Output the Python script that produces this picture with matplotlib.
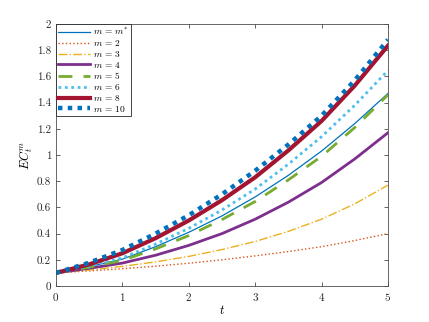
import numpy as np
import matplotlib
matplotlib.use('Agg')
import matplotlib.pyplot as plt

plt.rcParams['font.family'] = 'serif'
plt.rcParams['font.serif'] = ['cmr10']
plt.rcParams['mathtext.fontset'] = 'cm'
plt.rcParams['axes.formatter.use_mathtext'] = True

# values at t = 0, 0.5, ..., 5
t = [0, 0.5, 1, 1.5, 2, 2.5, 3, 3.5, 4, 4.5, 5]
ec_mstar = [0.1, 0.148, 0.205, 0.30, 0.41, 0.535, 0.68, 0.845, 1.03, 1.24, 1.47]
ec_m2 = [0.1, 0.115, 0.132, 0.151, 0.174, 0.20, 0.23, 0.263, 0.30, 0.347, 0.40]
ec_m3 = [0.1, 0.122, 0.15, 0.184, 0.226, 0.278, 0.34, 0.417, 0.51, 0.627, 0.77]
ec_m4 = [0.1, 0.135, 0.175, 0.235, 0.31, 0.40, 0.51, 0.64, 0.79, 0.97, 1.17]
ec_m5 = [0.1, 0.143, 0.195, 0.283, 0.385, 0.507, 0.645, 0.81, 0.99, 1.21, 1.46]
ec_m6 = [0.1, 0.152, 0.215, 0.32, 0.44, 0.58, 0.74, 0.93, 1.14, 1.38, 1.645]
ec_m8 = [0.1, 0.165, 0.25, 0.365, 0.50, 0.655, 0.83, 1.035, 1.26, 1.53, 1.835]
ec_m10 = [0.1, 0.178, 0.275, 0.40, 0.54, 0.70, 0.88, 1.08, 1.30, 1.57, 1.88]

fig = plt.figure(figsize=(4.29, 3.22), dpi=100)
ax = fig.add_axes([0.1305, 0.1118, 0.7739, 0.8137])

ax.plot(t, ec_mstar, '-', color='#0072BD', lw=0.9, label=r'$m\,=\,m^{*}$')
ax.plot(t, ec_m2, ':', color='#D95319', lw=1.0, label=r'$m\,=\,2$')
ax.plot(t, ec_m3, '-.', color='#EDB120', lw=1.0, label=r'$m\,=\,3$')
ax.plot(t, ec_m4, '-', color='#7E2F8E', lw=2.0, label=r'$m\,=\,4$')
ax.plot(t, ec_m5, '--', color='#77AC30', lw=2.0, dashes=(5, 4), label=r'$m\,=\,5$')
ax.plot(t, ec_m6, ':', color='#4DBEEE', lw=2.0, dashes=(1, 1.3), label=r'$m\,=\,6$')
ax.plot(t, ec_m8, '-', color='#A2142F', lw=3.0, label=r'$m\,=\,8$')
ax.plot(t, ec_m10, ':', color='#0072BD', lw=3.2, dashes=(1, 1.2), label=r'$m\,=\,10$')

ax.set_xlim(0, 5)
ax.set_ylim(0, 2)
ax.set_xticks([0, 1, 2, 3, 4, 5])
ax.set_yticks(np.arange(0, 2.01, 0.2))
ax.set_yticklabels(['0', '0.2', '0.4', '0.6', '0.8', '1', '1.2', '1.4', '1.6', '1.8', '2'])
ax.tick_params(direction='in', top=True, right=True, labelsize=8, length=3,
               width=0.5, colors='#262626')
for s in ax.spines.values():
    s.set_linewidth(0.6)
    s.set_color('#4d4d4d')

ax.set_xlabel(r'$t$', fontsize=9, labelpad=1)
ax.set_ylabel(r'$EC_t^m$', fontsize=9, labelpad=1)

leg = ax.legend(loc='upper left', fontsize=6.8, borderaxespad=0, handlelength=3.3,
                handletextpad=0.35, labelspacing=0.08, borderpad=0.25,
                fancybox=False, framealpha=1)
leg.get_frame().set_edgecolor('#262626')
leg.get_frame().set_linewidth(0.6)

fig.savefig('out.png', dpi=100)
